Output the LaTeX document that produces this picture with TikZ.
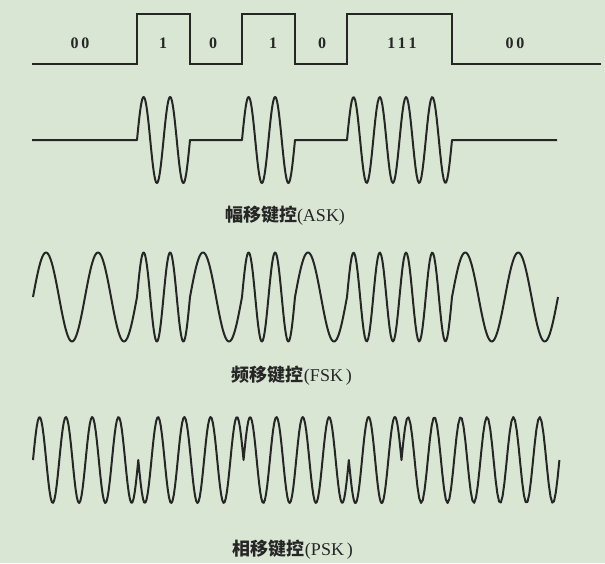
\documentclass[tikz,border=0pt]{standalone}
\usepackage{fontspec}
\setmainfont{Liberation Serif}
\newfontfamily\cjk{Noto Sans CJK SC}
\definecolor{bgc}{RGB}{217,230,212}
\definecolor{ink}{RGB}{38,38,38}
% sine segment: #1 start x, #2 end x, #3 centre y, #4 signed amplitude, #5 periods
\newcommand\sineseg[5]{-- plot[domain=#1:#2, samples=90] (\x,{#3-#4*sin(360*#5*((\x-#1)/(#2-#1)))})}
\tikzset{
  wave/.style={draw=ink, line width=2pt, line join=round},
  digital/.style={draw=ink, line width=2.2pt},
  bit/.style={font=\fontsize{16}{16}\selectfont\bfseries, text=ink, inner sep=0pt},
  caption/.style={font=\fontsize{18}{18}\selectfont, text=ink, inner sep=0pt}
}
\begin{document}
\begin{tikzpicture}[x=1pt,y=-1pt]
\fill[bgc] (0,0) rectangle (605,563);
\useasboundingbox (0,0) rectangle (605,563);
% digital signal
\draw[digital] (32,64) -- (137,64) -- (137,14) -- (190,14) -- (190,64) -- (242,64)
  -- (242,14) -- (295,14) -- (295,64) -- (347,64) -- (347,14) -- (452,14) -- (452,64) -- (601,64);
\node[bit] (b1) at (80,43) {0\,0};
\node[bit] (b2) at (163,43) {1};
\node[bit] (b3) at (213,43) {0};
\node[bit] (b4) at (273,43) {1};
\node[bit] (b5) at (322,43) {0};
\node[bit] (b6) at (402,43) {1\,1\,1};
\node[bit] (b7) at (515,43) {0\,0};
% ASK
\draw[wave] (32,140) -- (137,140) \sineseg{137}{190}{140}{43}{2} -- (242,140)
  \sineseg{242}{295}{140}{43}{2} -- (347,140) \sineseg{347}{452}{140}{43}{4} -- (557,140);
\node[caption] (ask) at (285,216) {{\cjk\bfseries 幅移键控}(ASK)};
% FSK
\draw[wave] (33,297) \sineseg{33}{137}{297}{44.5}{2} \sineseg{137}{190}{297}{44.5}{2}
  \sineseg{190}{242}{297}{44.5}{1} \sineseg{242}{295}{297}{44.5}{2}
  \sineseg{295}{347}{297}{44.5}{1} \sineseg{347}{452}{297}{44.5}{4}
  \sineseg{452}{558}{297}{44.5}{2};
\node[caption] (fsk) at (292,376) {{\cjk\bfseries 频移键控}(FSK\,)};
% PSK
\draw[wave] (33,460) \sineseg{33}{138.28}{460}{43}{4} \sineseg{138.28}{243.56}{460}{-43}{4}
  \sineseg{243.56}{348.84}{460}{43}{4} \sineseg{348.84}{401.48}{460}{-43}{2}
  \sineseg{401.48}{559.4}{460}{43}{6};
\node[caption] (psk) at (293,550) {{\cjk\bfseries 相移键控}(PSK\,)};
\end{tikzpicture}
\end{document}
